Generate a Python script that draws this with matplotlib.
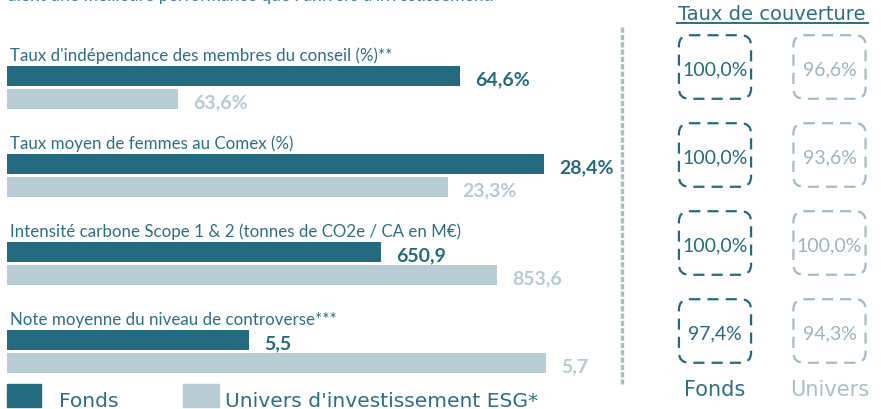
import matplotlib
matplotlib.use("Agg")
import matplotlib.pyplot as plt
from matplotlib.patches import FancyBboxPatch, Rectangle
from matplotlib.lines import Line2D

# ---------------- data ----------------
categories = [
    "Taux d'indépendance des membres du conseil (%)**",
    "Taux moyen de femmes au Comex (%)",
    "Intensité carbone Scope 1 & 2 (tonnes de CO2e / CA en M€)",
    "Note moyenne du niveau de controverse***",
]
fonds_values = [64.6, 28.4, 650.9, 5.5]
univers_values = [63.6, 23.3, 853.6, 5.7]
fonds_labels = ["64,6%", "28,4%", "650,9", "5,5"]
univers_labels = ["63,6%", "23,3%", "853,6", "5,7"]
# each metric has its own horizontal scale in the original
axis_min = [62.994, 0.0, 0.0, 5.337]
axis_max = [65.097, 31.36, 1032.0, 5.7363]

coverage_fonds = ["100,0%", "100,0%", "100,0%", "97,4%"]
coverage_univers = ["96,6%", "93,6%", "100,0%", "94,3%"]
series_names = ["Fonds", "Univers d'investissement ESG*"]
coverage_cols = ["Fonds", "Univers"]
coverage_title = "Taux de couverture"
top_text = "aient une meilleure performance que l'univers d'investissement."

# ---------------- style ----------------
W, H = 881, 410
DARK = "#256B80"
LIGHT = "#B8CDD3"
TXT = "#2D6F84"
LIGHT_TXT = "#B5CAD1"
BOX_LIGHT = "#A3BBC2"
plt.rcParams["font.family"] = ["Lato", "DejaVu Sans"]
WIDE = ["DejaVu Sans"]

fig = plt.figure(figsize=(W / 100, H / 100), dpi=100)


def fx(px):
    return px / W


def fy(py):
    return 1 - py / H


# cut-off sentence at the very top (cut off in the original too)
fig.text(fx(8), fy(1.0), top_text, fontsize=12.5, color="#3F7F92",
         va="baseline", ha="left")

# ---------------- bars ----------------
bar_left, bar_width_px = 7, 593
first_center, step, pair_gap = 77, 88, 23
for i, cat in enumerate(categories):
    c = first_center + i * step
    top = c - pair_gap / 2
    ax = fig.add_axes([fx(bar_left), fy(top + 2 * pair_gap), fx(bar_width_px),
                       2 * pair_gap / H])
    ax.set_xlim(axis_min[i], axis_max[i])
    ax.set_ylim(1.5, -0.5)
    ax.axis("off")
    h = 20 / 23
    ax.barh([0], [fonds_values[i] - axis_min[i]], left=axis_min[i], height=h,
            color=DARK)
    ax.barh([1], [univers_values[i] - axis_min[i]], left=axis_min[i], height=h,
            color=LIGHT)
    ax.annotate(fonds_labels[i], xy=(fonds_values[i], 0),
                xytext=(15 * 0.72, -8 * 0.72), textcoords="offset points",
                va="baseline", ha="left", fontweight="bold", fontsize=14,
                color=DARK, annotation_clip=False)
    ax.annotate(univers_labels[i], xy=(univers_values[i], 1),
                xytext=(15 * 0.72, -8 * 0.72), textcoords="offset points",
                va="baseline", ha="left", fontweight="bold", fontsize=14,
                color=LIGHT_TXT, annotation_clip=False)
    fig.text(fx(10), fy(c - 16), cat, fontsize=12.2, color=TXT,
             va="baseline", ha="left")

# ---------------- legend ----------------
fig.add_artist(Rectangle((fx(7), fy(408)), fx(34), 23 / H,
                         transform=fig.transFigure, color=DARK))
fig.add_artist(Rectangle((fx(183), fy(408)), fx(36), 23 / H,
                         transform=fig.transFigure, color=LIGHT))
fig.text(fx(59), fy(407), series_names[0], fontsize=14.6, color=TXT,
         va="baseline", ha="left", family=WIDE)
fig.text(fx(225), fy(407), series_names[1], fontsize=14.6, color=TXT,
         va="baseline", ha="left", family=WIDE)

# ---------------- separator ----------------
fig.add_artist(Line2D([fx(622), fx(622)], [fy(28), fy(385)],
                      transform=fig.transFigure, color="#A7BEC5", lw=2.4,
                      linestyle=(0, (1.6, 0.6))))

# ---------------- coverage panel ----------------
colw, rowh = 114.5, 88
axr = fig.add_axes([fx(715 - colw / 2), fy(68 - rowh / 2 + 4 * rowh),
                    fx(2 * colw), 4 * rowh / H])
axr.set_xlim(-0.5, 1.5)
axr.set_ylim(3.5, -0.5)
axr.axis("off")
bw, bh = 0.63, 0.68
asp = colw / rowh
for r in range(len(coverage_fonds)):
    for col, (vals, ec, tc) in enumerate([(coverage_fonds, DARK, DARK),
                                           (coverage_univers, BOX_LIGHT, "#9DB5BD")]):
        box = FancyBboxPatch((col - bw / 2 + 0.07, r - bh / 2 + 0.07), bw - 0.14,
                             bh - 0.14, boxstyle="round,pad=0.07,rounding_size=0.09",
                             mutation_aspect=asp, fill=False, edgecolor=ec,
                             lw=1.6, linestyle=(0, (5, 3.2)), clip_on=False)
        axr.add_patch(box)
        axr.text(col, r + 0.02, vals[r], ha="center", va="center",
                 fontsize=14, color=tc)

for col, (name, tc) in enumerate(zip(coverage_cols, [TXT, "#A9C0C7"])):
    axr.text(col, 3.66, name, ha="center", va="center", fontsize=15,
             color=tc, clip_on=False, family=WIDE)

fig.text(fx(772), fy(20), coverage_title, ha="center", va="baseline",
         fontsize=14, color=TXT, family=WIDE)
fig.add_artist(Line2D([fx(677), fx(868)], [fy(24), fy(24)],
                      transform=fig.transFigure, color=TXT, lw=1.4))

fig.savefig("out.png", dpi=100)
